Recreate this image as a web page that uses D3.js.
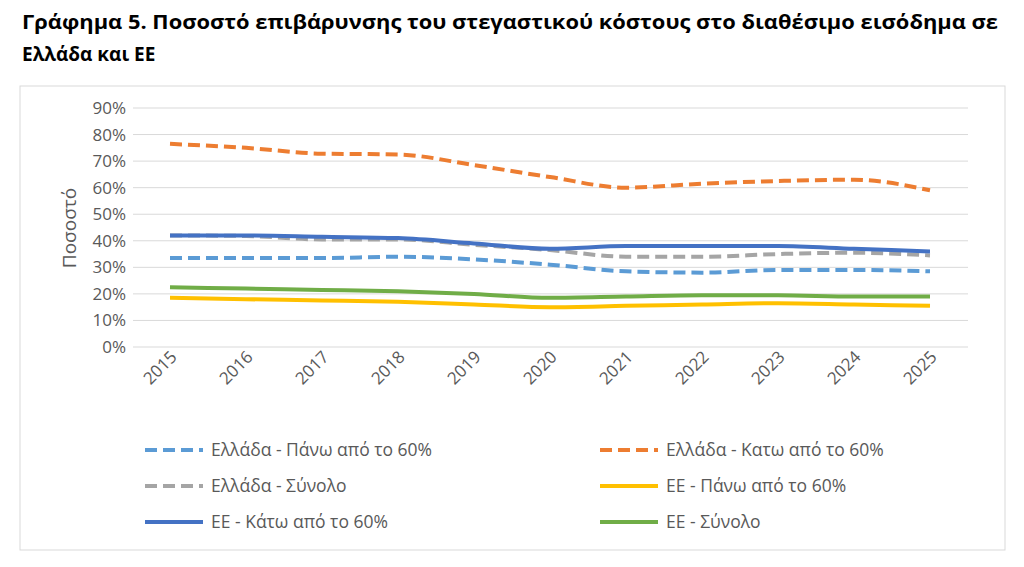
<!DOCTYPE html>
<html><head><meta charset="utf-8">
<script src="https://cdn.jsdelivr.net/npm/d3@7"></script>
<style>body{margin:0;background:#fff;font-family:"Open Sans",sans-serif}</style>
</head><body>
<svg id="c" width="1024" height="567"></svg>
<script>
// chart data
var years = [2015,2016,2017,2018,2019,2020,2021,2022,2023,2024,2025];
var grAbove = [33.5,33.5,33.5,34,33,31,28.5,28,29,29,28.5];
var grBelow = [76.5,75,72.8,72.5,68.5,64,60,61.5,62.5,63,59];
var grTotal = [42,41.8,40.5,40.5,38.5,36.5,34,34,35,35.5,34.5];
var euAbove = [18.5,18,17.5,17,16,15,15.5,16,16.5,16,15.5];
var euBelow = [42,42,41.5,41,39,37,38,38,38,37,36];
var euTotal = [22.5,22,21.5,21,20,18.5,19,19.5,19.5,19,19];
var yTicks = [0,10,20,30,40,50,60,70,80,90];

var series = [
	{name:"Ελλάδα - Πάνω από το 60%", vals:grAbove, color:"#5b9bd5", dash:true},
	{name:"Ελλάδα - Κατω από το 60%", vals:grBelow, color:"#ed7d31", dash:true},
	{name:"Ελλάδα - Σύνολο", vals:grTotal, color:"#a5a5a5", dash:true},
	{name:"ΕΕ - Πάνω από το 60%", vals:euAbove, color:"#ffc000", dash:false},
	{name:"ΕΕ - Κάτω από το 60%", vals:euBelow, color:"#4472c4", dash:false},
	{name:"ΕΕ - Σύνολο", vals:euTotal, color:"#70ad47", dash:false}
];

var svg = d3.select("#c");
svg.append("text").attr("x",22).attr("y",29).attr("font-weight","bold").attr("font-size",19)
	.attr("textLength",976).attr("lengthAdjust","spacingAndGlyphs")
	.text("Γράφημα 5. Ποσοστό επιβάρυνσης του στεγαστικού κόστους στο διαθέσιμο εισόδημα σε");
svg.append("text").attr("x",22).attr("y",61).attr("font-weight","bold").attr("font-size",19)
	.text("Ελλάδα και ΕΕ");
svg.append("rect").attr("x",20).attr("y",86).attr("width",985).attr("height",464)
	.attr("fill","none").attr("stroke","#d9d9d9");

var x = d3.scalePoint().domain(years).range([170,930]);
var y = d3.scaleLinear().domain([0,90]).range([347,108]);

// gridlines
svg.selectAll(".grid").data(yTicks).enter().append("line")
	.attr("x1",133).attr("x2",968).attr("y1",d=>y(d)).attr("y2",d=>y(d))
	.attr("stroke","#d9d9d9");
svg.selectAll(".yl").data(yTicks).enter().append("text")
	.attr("x",126).attr("y",d=>y(d)+6).attr("text-anchor","end")
	.attr("font-size",17).attr("fill","#595959").text(d=>d+"%");
svg.selectAll(".xl").data(years).enter().append("text")
	.attr("transform",d=>"translate("+(x(d)+8)+",358) rotate(-45)")
	.attr("text-anchor","end").attr("font-size",17).attr("fill","#595959").text(d=>d);
svg.append("text").attr("transform","translate(76,228) rotate(-90)")
	.attr("text-anchor","middle").attr("font-size",19).attr("fill","#595959").text("Ποσοστό");

var line = d3.line().x((d,i)=>x(years[i])).y(d=>y(d)).curve(d3.curveMonotoneX);
var order = [5,3,0,2,4,1];
order.forEach(function(k){
	var s = series[k];
	svg.append("path").attr("d",line(s.vals)).attr("fill","none")
		.attr("stroke",s.color).attr("stroke-width",4)
		.attr("stroke-dasharray",s.dash?"12,6":null);
});

// legend
series.forEach(function(s,i){
	var lx = i%2===0 ? 145 : 600, ly = 450 + Math.floor(i/2)*36;
	svg.append("line").attr("x1",lx).attr("x2",lx+58).attr("y1",ly).attr("y2",ly)
		.attr("stroke",s.color).attr("stroke-width",4).attr("stroke-dasharray",s.dash?"12,6":null);
	svg.append("text").attr("x",lx+66).attr("y",ly+6).attr("font-size",17.5)
		.attr("fill","#595959").text(s.name);
});
</script>
</body></html>
